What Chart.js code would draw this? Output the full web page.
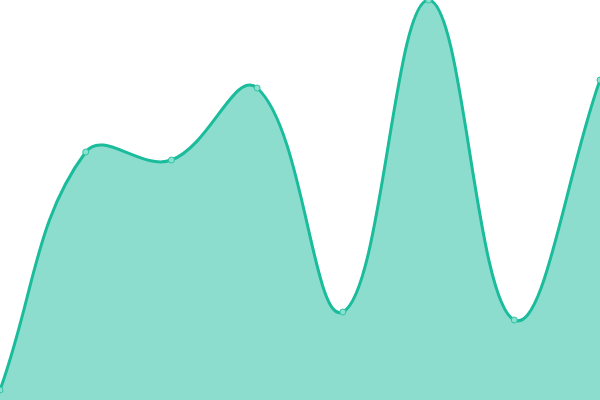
<!DOCTYPE html>
<html>
<head>
<meta charset="utf-8">
<script src="https://cdn.jsdelivr.net/npm/chart.js@4/dist/chart.umd.min.js"></script>
<style>
  html, body { margin: 0; padding: 0; background: #fff; }
  #wrap { width: 600px; height: 400px; }
</style>
</head>
<body>
<div id="wrap"><canvas id="chart"></canvas></div>
<script>
const labels = ['1', '2', '3', '4', '5', '6', '7', '8'];
const values = [2.5, 62, 60, 78, 22, 100, 20, 80];
const yMin = 0;
const yMax = 100;

new Chart(document.getElementById('chart'), {
    type: 'line',
    data: {
        labels: labels,
        datasets: [{
            data: values,
            fill: true,
            tension: 0.4,
            borderColor: '#1abc9c',
            borderWidth: 3,
            backgroundColor: 'rgba(26, 188, 156, 0.5)',
            pointRadius: 3,
            pointBorderWidth: 1,
            pointBorderColor: '#2ec4a4',
            pointBackgroundColor: 'rgba(140, 224, 207, 1)'
        }]
    },
    options: {
        responsive: true,
        maintainAspectRatio: false,
        animation: false,
        layout: { padding: 0, autoPadding: false },
        plugins: {
            legend: { display: false },
            tooltip: { enabled: false }
        },
        scales: {
            x: { display: false, offset: false },
            y: { display: false, min: yMin, max: yMax }
        }
    }
});
</script>
</body>
</html>
